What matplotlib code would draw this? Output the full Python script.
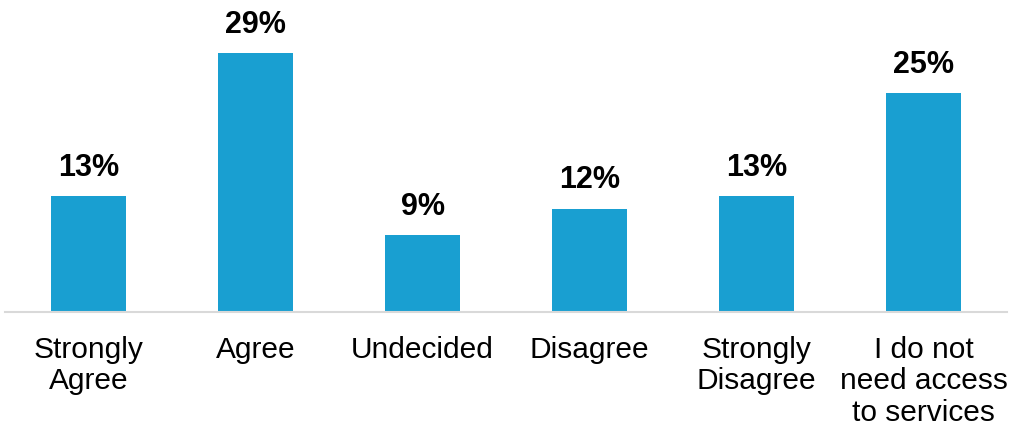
import matplotlib
matplotlib.use("Agg")
import matplotlib.pyplot as plt

categories = ["Strongly\nAgree", "Agree", "Undecided", "Disagree", "Strongly\nDisagree",
              "I do not\nneed access\nto services"]
values = [13.0, 29.0, 8.6, 11.6, 13.0, 24.6]
value_labels = ["13%", "29%", "9%", "12%", "13%", "25%"]

plt.rcParams['font.family'] = ['Liberation Sans', 'DejaVu Sans']

fig = plt.figure(figsize=(10.10, 4.26), dpi=100)
ax = fig.add_axes([5/1010, (426-312)/426, 1002/1010, 312/426])
x = list(range(len(categories)))
bars = ax.bar(x, values, width=0.45, color="#199FD1")
for xi, v, lab in zip(x, values, value_labels):
    ax.annotate(lab, (xi, v), xytext=(0, 9.5), textcoords="offset points",
                ha="center", va="bottom", fontsize=22, fontweight="bold", color="black")
ax.set_xlim(-0.5, len(categories) - 0.5)
ax.set_ylim(0, 35)
ax.set_xticks(x)
ax.set_xticklabels(categories, fontsize=21.5, linespacing=1.17)
ax.tick_params(axis="x", length=0, pad=17)
ax.set_yticks([])
for s in ["top", "right", "left"]:
    ax.spines[s].set_visible(False)
ax.spines["bottom"].set_color("#D9D9D9")
ax.spines["bottom"].set_linewidth(1.5)
fig.savefig("out.png", dpi=100)
